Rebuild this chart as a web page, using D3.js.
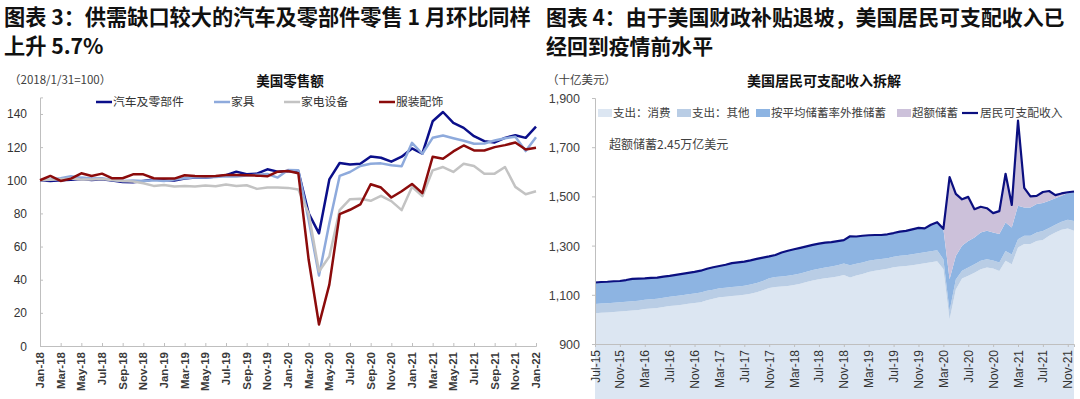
<!DOCTYPE html>
<html>
<head>
<meta charset="utf-8">
<script src="https://cdn.jsdelivr.net/npm/d3@7"></script>
<style>
  body { margin: 0; background: #fff; }
  svg { display: block; }
  text { font-family: "Liberation Sans", Arial, "Noto Sans CJK SC", sans-serif; }
  .cn { font-family: "Noto Sans CJK SC", sans-serif; }
</style>
</head>
<body>
<div id="container"></div>
<script>
/* DATA - left chart: US retail sales index (2018/1/31=100), Jan-18 .. Jan-22 */
const leftTicks = ["Jan-18","Mar-18","May-18","Jul-18","Sep-18","Nov-18","Jan-19","Mar-19","May-19","Jul-19",
  "Sep-19","Nov-19","Jan-20","Mar-20","May-20","Jul-20","Sep-20","Nov-20","Jan-21","Mar-21","May-21","Jul-21",
  "Sep-21","Nov-21","Jan-22"];
const leftYTicks = [0, 20, 40, 60, 80, 100, 120, 140];

const autos = [100, 99.5, 100, 100.3, 100.8, 100.2, 100.6, 99.8, 99, 98.8, 99.6, 100.4,
  100.2, 99.8, 101, 101.6, 101.5, 102.2, 103, 105.2, 103.6, 104, 106.6, 105.2,
  105.6, 105.4, 80, 68, 100.5, 110.4, 109.5, 110, 114.4, 113.6, 111.2, 114.2,
  119.2, 116, 135.6, 141.2, 134.6, 131.6, 126.6, 123.6, 122.8, 125.6, 127.2, 125.6, 132.4];
const furniture = [100, 100.5, 101.2, 102.4, 101.6, 101, 101.2, 100.2, 99.5, 99.8, 99.5, 100,
  99.6, 100.4, 101.2, 101.8, 101.6, 102, 102.4, 102.2, 102.8, 103.4, 103.8, 101.6,
  106.2, 106, 76, 42.5, 74, 102.6, 105, 108.6, 110, 110.2, 109, 108.4,
  122.6, 116, 125.6, 127, 125.4, 123.8, 122, 122.2, 124, 125.4, 126.2, 117.6, 126];
const electronics = [100, 100.3, 100.6, 101, 100.5, 100.4, 100.8, 100.2, 99.6, 99.2, 98.2, 96.6,
  97.2, 96.2, 96.6, 96.2, 96.8, 96.4, 97.4, 96.6, 97, 94.8, 95.6, 95.6,
  95.4, 94.4, 80, 45, 54, 82, 88.6, 88.8, 87.6, 90.6, 87.4, 82,
  96, 90.4, 106, 108, 105, 110, 108.6, 104, 104, 108, 96, 91.6, 93.4];
const clothing = [100, 102.6, 99.6, 101, 104.2, 102.6, 104, 101.2, 101.2, 103.6, 103.6, 101.2,
  101, 101, 103, 102.6, 102.4, 102.6, 103.2, 103.2, 103, 102.8, 102.4, 105.2,
  105.6, 104.2, 52, 13, 37, 79.6, 82.2, 85.4, 97.6, 95.6, 89.6, 93.4,
  97.8, 92.2, 114.2, 113, 117.4, 121, 118, 118, 120, 121.2, 122.8, 118.6, 119.6];

const leftSeries = [
  { name: "汽车及零部件", values: autos, color: "#0b0f8a" },
  { name: "家具", values: furniture, color: "#8eaadc" },
  { name: "家电设备", values: electronics, color: "#c3c3c3" },
  { name: "服装配饰", values: clothing, color: "#8b0b0b" }
];

/* DATA - right chart: US disposable income breakdown (bn USD), Jul-15 .. Dec-21 */
const rightTicks = ["Jul-15","Nov-15","Mar-16","Jul-16","Nov-16","Mar-17","Jul-17","Nov-17","Mar-18","Jul-18",
  "Nov-18","Mar-19","Jul-19","Nov-19","Mar-20","Jul-20","Nov-20","Mar-21","Jul-21","Nov-21"];
const rightYTicks = [900, 1100, 1300, 1500, 1700, 1900];

const income = [1150, 1152, 1153, 1155, 1156, 1160,
  1165, 1166, 1167, 1169, 1170, 1174, 1177, 1181, 1185, 1189, 1193, 1198,
  1206, 1212, 1217, 1222, 1229, 1232, 1235, 1240, 1246, 1251, 1256, 1262,
  1272, 1279, 1285, 1291, 1297, 1303, 1308, 1312, 1314, 1318, 1322, 1338,
  1337, 1340, 1342, 1343, 1343, 1346, 1351, 1357, 1360, 1366, 1372, 1370,
  1385, 1395, 1368, 1578, 1510, 1488, 1498, 1448, 1458, 1452, 1432, 1440,
  1592, 1465, 1808, 1535, 1500, 1502, 1518, 1522, 1505, 1512, 1517, 1520];
const consumption = [1025, 1027, 1028, 1030, 1032, 1034,
  1036, 1038, 1042, 1044, 1046, 1050, 1054, 1057, 1060, 1064, 1067, 1070,
  1078, 1084, 1090, 1092, 1095, 1097, 1100, 1104, 1110, 1118, 1128, 1132,
  1134, 1136, 1140, 1145, 1152, 1158, 1163, 1167, 1170, 1174, 1180, 1170,
  1178, 1185, 1193, 1198, 1202, 1206, 1212, 1215, 1217, 1220, 1224, 1228,
  1232, 1236, 1205, 1000, 1122, 1166, 1177, 1190, 1204, 1211, 1207, 1197,
  1238, 1224, 1292, 1306, 1306, 1319, 1323, 1340, 1353, 1364, 1370, 1360];
const otherOutlays = [38, 38, 38, 38, 38, 38,
  38, 38, 38, 38, 38, 38, 38, 38, 38, 38, 38, 39,
  38, 37, 37, 37, 37, 37, 37, 38, 38, 38, 39, 40,
  40, 41, 41, 42, 42, 43, 43, 44, 45, 46, 47, 50,
  48, 46, 45, 44, 44, 43, 43, 44, 44, 45, 45, 45,
  45, 45, 40, 34, 40, 32, 34, 34, 34, 34, 32, 34,
  40, 40, 34, 34, 34, 34, 36, 32, 32, 33, 35, 40];
const excessSaving = [0, 0, 0, 0, 0, 0,
  0, 0, 0, 0, 0, 0, 0, 0, 0, 0, 0, 0,
  0, 0, 0, 0, 0, 0, 0, 0, 0, 0, 0, 0,
  0, 0, 0, 0, 0, 0, 0, 0, 0, 0, 0, 0,
  0, 0, 0, 0, 0, 0, 0, 0, 0, 0, 0, 0,
  0, 0, 0, 415, 252, 189, 179, 115, 105, 92, 79, 93,
  198, 91, 346, 80, 45, 33, 45, 40, 13, 9, 3, 0];

const rightKeys = ["consumption", "other", "saving", "excess"];
const rightColors = { consumption: "#dce6f2", other: "#b9cde5", saving: "#8db4e2", excess: "#ccc1da" };
const rightLegend = [
  { label: "支出：消费", key: "consumption" },
  { label: "支出：其他", key: "other" },
  { label: "按平均储蓄率外推储蓄", key: "saving" },
  { label: "超额储蓄", key: "excess" }
];

/* CONSTANTS */
const W = 1080, H = 399;
const svg = d3.select("#container").append("svg").attr("width", W).attr("height", H);

// titles
function title(x, lines, size) {
  const t = svg.append("text").attr("class", "cn")
    .attr("font-size", size).attr("font-weight", "bold").attr("fill", "#111");
  lines.forEach((l, i) => t.append("tspan").attr("x", x).attr("y", 25 + i * 29).text(l));
}
title(4, ["图表 3：供需缺口较大的汽车及零部件零售 1 月环比同样", "上升 5.7%"], 21.2);
title(546, ["图表 4：由于美国财政补贴退坡，美国居民可支配收入已", "经回到疫情前水平"], 20.9);

/* LEFT CHART */
const lx = d3.scaleLinear().domain([0, 48]).range([40, 536]);
const ly = d3.scaleLinear().domain([0, 150]).range([346, 97.4]);
const L = svg.append("g");

L.append("text").attr("x", 9).attr("y", 84).attr("font-size", 11.5).attr("fill", "#404040")
  .attr("class", "cn").text("（2018/1/31=100）");
L.append("text").attr("x", 290).attr("y", 86).attr("text-anchor", "middle").attr("font-size", 13.5)
  .attr("font-weight", "bold").attr("class", "cn").attr("fill", "#111").text("美国零售额");

// axes
const lyAxis = L.append("g").attr("transform", `translate(40,0)`)
  .call(d3.axisRight(ly).tickValues(leftYTicks).tickSize(3).tickFormat(""));
lyAxis.select(".domain").attr("stroke", "#bfbfbf");
lyAxis.selectAll(".tick line").attr("stroke", "#bfbfbf");
L.selectAll("text.ylab").data(leftYTicks).join("text").attr("class", "ylab")
  .attr("x", 27).attr("y", d => ly(d) + 4.5).attr("text-anchor", "end")
  .attr("font-size", 12).attr("fill", "#333").text(d => d);

const lxAxis = L.append("g").attr("transform", `translate(0,346)`)
  .call(d3.axisTop(lx).tickValues(d3.range(0, 49, 2)).tickSize(3).tickFormat(""));
lxAxis.select(".domain").attr("stroke", "#bfbfbf");
lxAxis.selectAll(".tick line").attr("stroke", "#bfbfbf");
L.selectAll("text.xlab").data(leftTicks).join("text").attr("class", "xlab")
  .attr("transform", (d, i) => `translate(${lx(i * 2) + 4},352) rotate(-90)`)
  .attr("text-anchor", "end").attr("font-size", 11.5).attr("font-weight", "bold")
  .attr("fill", "#3a3a3a").text(d => d);

// lines
const lline = d3.line().x((d, i) => lx(i)).y(d => ly(d));
L.selectAll("path.series").data(leftSeries).join("path").attr("class", "series")
  .attr("d", d => lline(d.values)).attr("fill", "none")
  .attr("stroke", d => d.color).attr("stroke-width", 2.5).attr("stroke-linejoin", "round");

// legend
const legX = [96, 214, 284, 379];
const lg = L.selectAll("g.leg").data(leftSeries).join("g").attr("class", "leg")
  .attr("transform", (d, i) => `translate(${legX[i]},102)`);
lg.append("line").attr("x1", 0).attr("x2", 16).attr("stroke", d => d.color).attr("stroke-width", 2.5);
lg.append("text").attr("class", "cn").attr("x", 17).attr("y", 4).attr("font-size", 11.8)
  .attr("fill", "#333").text(d => d.name);

/* RIGHT CHART */
const rows = income.map((v, j) => ({
  consumption: consumption[j],
  other: otherOutlays[j],
  saving: v - excessSaving[j] - consumption[j] - otherOutlays[j],
  excess: excessSaving[j]
}));
const stacked = d3.stack().keys(rightKeys)(rows);

const rx = d3.scaleLinear().domain([0, income.length - 1]).range([595, 1074]);
const ry = d3.scaleLinear().domain([900, 1900]).range([344, 98]);
const R = svg.append("g");

R.append("text").attr("class", "cn").attr("x", 547).attr("y", 84).attr("font-size", 11.5)
  .attr("fill", "#404040").text("（十亿美元）");
R.append("text").attr("class", "cn").attr("x", 824).attr("y", 86).attr("text-anchor", "middle")
  .attr("font-size", 14).attr("font-weight", "bold").attr("fill", "#111").text("美国居民可支配收入拆解");

const area = d3.area().x((d, j) => rx(j)).y0(d => ry(d[0])).y1(d => ry(d[1]));
R.selectAll("path.layer").data(stacked).join("path").attr("class", "layer")
  .attr("d", area).attr("fill", d => rightColors[d.key]);

R.append("path").attr("d", d3.line().x((d, j) => rx(j)).y(d => ry(d))(income))
  .attr("fill", "none").attr("stroke", "#0b0f80").attr("stroke-width", 2.2)
  .attr("stroke-linejoin", "round");

const ryAxis = R.append("g").attr("transform", `translate(595,0)`)
  .call(d3.axisLeft(ry).tickValues(rightYTicks).tickSize(3).tickFormat(""));
ryAxis.select(".domain").attr("stroke", "#bfbfbf");
ryAxis.selectAll(".tick line").attr("stroke", "#bfbfbf");
R.selectAll("text.ylab").data(rightYTicks).join("text").attr("class", "ylab")
  .attr("x", 580).attr("y", d => ry(d) + 5).attr("text-anchor", "end")
  .attr("font-size", 12.5).attr("fill", "#404040").text(d => d3.format(",")(d));

const rxAxis = R.append("g").attr("transform", `translate(0,344)`)
  .call(d3.axisBottom(rx).tickValues(d3.range(0, 78, 4)).tickSize(3).tickFormat(""));
rxAxis.select(".domain").attr("stroke", "#bfbfbf");
rxAxis.selectAll(".tick line").attr("stroke", "#bfbfbf");
R.selectAll("text.xlab").data(rightTicks).join("text").attr("class", "xlab")
  .attr("transform", (d, i) => `translate(${rx(i * 4) + 4.5},350) rotate(-90)`)
  .attr("text-anchor", "end").attr("font-size", 12).attr("fill", "#333").text(d => d);

// legend
const rLegX = [598, 677, 756, 897];
const rg = R.selectAll("g.leg").data(rightLegend).join("g").attr("class", "leg")
  .attr("transform", (d, i) => `translate(${rLegX[i]},113)`);
rg.append("rect").attr("x", 0).attr("y", -4).attr("width", 14).attr("height", 8)
  .attr("fill", d => rightColors[d.key]);
rg.append("text").attr("class", "cn").attr("x", 15).attr("y", 4).attr("font-size", 11.5)
  .attr("fill", "#404040").text(d => d.label);
const incLeg = R.append("g").attr("transform", "translate(962,113)");
incLeg.append("line").attr("x1", 0).attr("x2", 16).attr("stroke", "#0b0f80").attr("stroke-width", 2.2);
incLeg.append("text").attr("class", "cn").attr("x", 18).attr("y", 4).attr("font-size", 11.8)
  .attr("fill", "#404040").text("居民可支配收入");

R.append("text").attr("class", "cn").attr("x", 609).attr("y", 149).attr("font-size", 12)
  .attr("fill", "#404040").text("超额储蓄2.45万亿美元");
</script>
</body>
</html>
